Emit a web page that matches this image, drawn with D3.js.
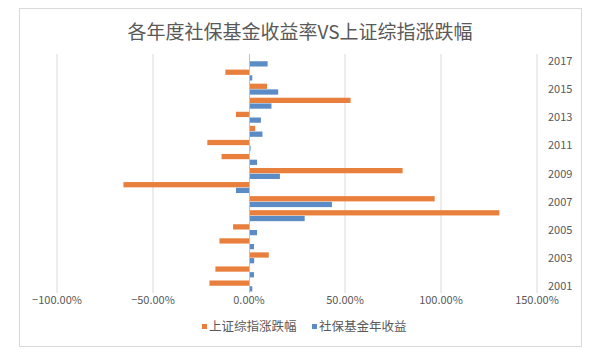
<!DOCTYPE html>
<html>
<head>
<meta charset="utf-8">
<script src="https://cdn.jsdelivr.net/npm/d3@7"></script>
<style>
  body { margin: 0; background: #fff; }
  text { font-family: "Noto Sans CJK SC", "Open Sans", sans-serif; }
</style>
</head>
<body>
<div id="chart"></div>
<script>
// years bottom (2001) to top (2017)
const years = [2001, 2002, 2003, 2004, 2005, 2006, 2007, 2008, 2009, 2010, 2011, 2012, 2013, 2014, 2015, 2016, 2017];
// 上证综指涨跌幅 (%), no bar drawn for 2017
const indexChange = [-20.6, -17.5, 10.3, -15.4, -8.3, 130.4, 96.7, -65.4, 80.0, -14.3, -21.7, 3.2, -6.8, 52.9, 9.4, -12.3, null];
// 社保基金年收益 (%)
const fundReturn = [1.7, 2.6, 2.7, 2.6, 4.2, 29.0, 43.2, -6.8, 16.1, 4.2, 0.8, 7.0, 6.2, 11.7, 15.2, 1.7, 9.7];
const xTicks = [-100, -50, 0, 50, 100, 150];
const yearLabels = [2001, 2003, 2005, 2007, 2009, 2011, 2013, 2015, 2017];
const seriesNames = ["上证综指涨跌幅", "社保基金年收益"];
const colors = ["#E87F3C", "#5B8CC6"];

const width = 600, height = 355;
const svg = d3.select("#chart").append("svg")
    .attr("width", width)
    .attr("height", height);

// chart frame
svg.append("rect")
    .attr("x", 19.5).attr("y", 8.5)
    .attr("width", 562).attr("height", 338)
    .attr("fill", "#fff")
    .attr("stroke", "#d9d9d9");

svg.append("text")
    .attr("x", 300).attr("y", 39)
    .attr("text-anchor", "middle")
    .attr("font-size", "19px")
    .attr("fill", "#595959")
    .text("各年度社保基金收益率VS上证综指涨跌幅");

let x = d3.scaleLinear().domain([-100, 150]).range([57, 537]);
let y = d3.scaleBand().domain(years.slice().reverse()).range([54, 293]);
let ySub = d3.scaleBand().domain([0, 1]).range([0, y.bandwidth()]).paddingInner(0.08).paddingOuter(0.27);

// gridlines
svg.append("g").selectAll("line")
    .data(xTicks.filter(d => d !== 0))
    .join("line")
    .attr("x1", d => x(d)).attr("x2", d => x(d))
    .attr("y1", 54).attr("y2", 293)
    .attr("stroke", "#d9d9d9")
    .attr("stroke-width", 1);

// x tick labels
svg.append("g").selectAll("text")
    .data(xTicks)
    .join("text")
    .attr("x", d => x(d))
    .attr("y", 304)
    .attr("text-anchor", "middle")
    .attr("font-size", "11px")
    .attr("fill", "#595959")
    .text(d => d3.format(".2f")(d) + "%");

// bars
let rows = [];
years.forEach((yr, i) => {
    rows.push({year: yr, s: 0, v: indexChange[i]});
    rows.push({year: yr, s: 1, v: fundReturn[i]});
});
rows = rows.filter(d => d.v !== null);

svg.append("g").selectAll("rect")
    .data(rows)
    .join("rect")
    .attr("x", d => x(Math.min(0, d.v)))
    .attr("y", d => y(d.year) + ySub(d.s))
    .attr("width", d => Math.abs(x(d.v) - x(0)))
    .attr("height", ySub.bandwidth())
    .attr("fill", d => colors[d.s]);

// category axis at 0
svg.append("line")
    .attr("x1", x(0) + 0.5).attr("x2", x(0) + 0.5)
    .attr("y1", 54).attr("y2", 293)
    .attr("stroke", "#bfbfbf");

// year labels on the right
svg.append("g").selectAll("text")
    .data(yearLabels)
    .join("text")
    .attr("x", 548)
    .attr("y", d => y(d) + y.bandwidth() / 2 + 4)
    .attr("font-size", "11px")
    .attr("fill", "#595959")
    .text(d => d);

// legend
let legend = svg.append("g").attr("transform", "translate(202, 327)");
seriesNames.forEach((name, i) => {
    let gx = i * 110;
    legend.append("rect")
        .attr("x", gx).attr("y", -3)
        .attr("width", 5).attr("height", 5)
        .attr("fill", colors[i]);
    legend.append("text")
        .attr("x", gx + 7).attr("y", 4)
        .attr("font-size", "12.5px")
        .attr("fill", "#595959")
        .text(name);
});
</script>
</body>
</html>
